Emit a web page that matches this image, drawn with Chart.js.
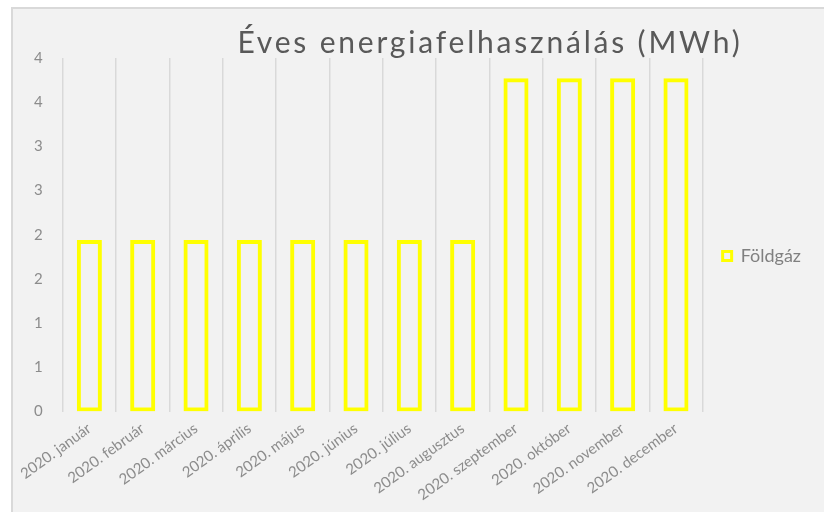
<!DOCTYPE html>
<html>
<head>
<meta charset="utf-8">
<script src="https://cdn.jsdelivr.net/npm/chart.js@4"></script>
<style>
  html, body { margin: 0; padding: 0; background: #ffffff; }
  #wrap { position: relative; width: 824px; height: 512px; overflow: hidden; }
  #frame { position: absolute; left: 11px; top: 7px; width: 900px; height: 600px;
           background: #f2f2f2; border-left: 2px solid #d9d9d9; border-top: 2px solid #d9d9d9; }
  #energyChart { position: absolute; left: 0; top: 0; }
</style>
</head>
<body>
<div id="wrap">
  <div id="frame"></div>
  <canvas id="energyChart" width="824" height="512"></canvas>
</div>
<script>
const chartTitle = 'Éves energiafelhasználás (MWh)';
const months = ['2020. január', '2020. február', '2020. március', '2020. április', '2020. május', '2020. június',
    '2020. július', '2020. augusztus', '2020. szeptember', '2020. október', '2020. november', '2020. december'];
const gasValues = [1.94, 1.94, 1.94, 1.94, 1.94, 1.94, 1.94, 1.94, 3.77, 3.77, 3.77, 3.77];
const yTickLabels = ['0', '1', '1', '2', '2', '3', '3', '4', '4'];

const fontFamily = 'Lato, "Liberation Sans", sans-serif';

// title is drawn off-centre like in the original sheet
const titlePlugin = {
    id: 'sheetTitle',
    afterDraw(chart) {
        const c = chart.ctx;
        c.save();
        c.font = '30px ' + fontFamily;
        c.letterSpacing = '2.8px';
        c.fillStyle = '#595959';
        c.textAlign = 'center';
        c.textBaseline = 'alphabetic';
        c.fillText(chartTitle, 490, 53);
        c.restore();
    }
};

const ctx = document.getElementById('energyChart').getContext('2d');
const energyChart = new Chart(ctx, {
    type: 'bar',
    data: {
        labels: months,
        datasets: [{
            label: 'Földgáz',
            data: gasValues,
            backgroundColor: 'rgba(0,0,0,0)',
            borderColor: '#ffff00',
            borderWidth: 4,
            borderSkipped: false,
            barPercentage: 0.47,
            categoryPercentage: 1
        }]
    },
    options: {
        responsive: false,
        animation: false,
        layout: {
            padding: { top: 0, left: 14, right: 13, bottom: 0 }
        },
        plugins: {
            // empty title only keeps room above the plot (text drawn by sheetTitle)
            title: {
                display: true,
                text: '',
                fullSize: false,
                font: { size: 30, lineHeight: 1.2 },
                padding: { top: 0, bottom: 22 }
            },
            tooltip: { enabled: false },
            legend: {
                position: 'right',
                labels: {
                    color: '#808080',
                    font: { family: fontFamily, size: 18 },
                    boxWidth: 9,
                    boxHeight: 9,
                    padding: 20,
                    generateLabels(chart) {
                        const items = Chart.defaults.plugins.legend.labels.generateLabels(chart);
                        items.forEach(it => { it.lineWidth = 3; });
                        return items;
                    }
                }
            }
        },
        scales: {
            x: {
                grid: { color: '#d9d9d9', lineWidth: 1.5, drawTicks: false, offset: true },
                border: { display: false },
                ticks: {
                    color: '#8c8c8c',
                    font: { family: fontFamily, size: 15 },
                    minRotation: 36,
                    maxRotation: 36,
                    padding: 8,
                    autoSkip: false
                }
            },
            y: {
                min: 0,
                max: 4,
                grid: { display: false, drawTicks: false },
                border: { display: false },
                ticks: {
                    stepSize: 0.5,
                    color: '#8c8c8c',
                    font: { family: fontFamily, size: 15 },
                    padding: 20,
                    callback: (value, index) => yTickLabels[index]
                }
            }
        }
    },
    plugins: [titlePlugin]
});
</script>
</body>
</html>
